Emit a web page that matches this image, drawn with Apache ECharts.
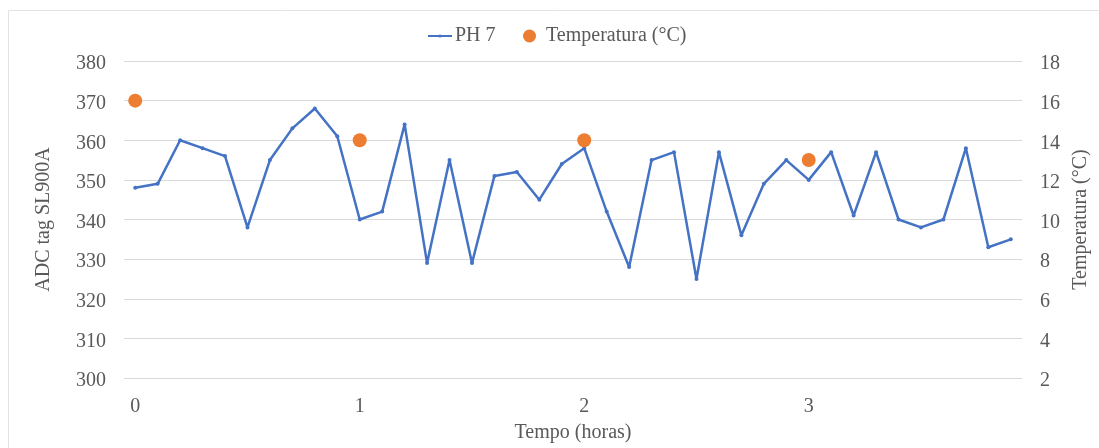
<!DOCTYPE html>
<html>
<head>
<meta charset="utf-8">
<script src="https://cdn.jsdelivr.net/npm/echarts@6/dist/echarts.min.js"></script>
<style>
  html, body { margin: 0; padding: 0; background: #ffffff; }
  #chart { width: 1099px; height: 448px; }
</style>
</head>
<body>
<div id="chart"></div>
<script>
// Time axis (hours), one reading every 0.1 h
const tempoHoras = ['0','0.1','0.2','0.3','0.4','0.5','0.6','0.7','0.8','0.9',
                    '1','1.1','1.2','1.3','1.4','1.5','1.6','1.7','1.8','1.9',
                    '2','2.1','2.2','2.3','2.4','2.5','2.6','2.7','2.8','2.9',
                    '3','3.1','3.2','3.3','3.4','3.5','3.6','3.7','3.8','3.9'];

// ADC readings of the SL900A tag for the pH 7 solution
const ph7 = [348, 349, 360, 358, 356, 338, 355, 363, 368, 361,
             340, 342, 364, 329, 355, 329, 351, 352, 345, 354,
             358, 342, 328, 355, 357, 325, 357, 336, 349, 355,
             350, 357, 341, 357, 340, 338, 340, 358, 333, 335];

// Temperature measured once per hour
const tempHoras = ['0', '1', '2', '3'];
const temperatura = [16, 14, 14, 13];

// Axis ticks
const adcTicks = { min: 300, max: 380, interval: 10 };
const tempTicks = { min: 2, max: 18, interval: 2 };

const textColor = '#595959';
const fontFam = '"Liberation Serif", "Times New Roman", serif';
const fs = 20;
const blue = '#4472C4';
const orange = '#ED7D31';

const chart = echarts.init(document.getElementById('chart'), null, { renderer: 'canvas' });

const legendText = { fontFamily: fontFam, fontSize: fs, color: textColor };

// Value labels sit a little below their gridline
const lowered = v => '{t|' + v + '}';
const loweredRich = { t: { fontFamily: fontFam, fontSize: fs, color: textColor, padding: [6, 0, 0, 0] } };

chart.setOption({
  backgroundColor: '#ffffff',
  animation: false,
  textStyle: { fontFamily: fontFam, color: textColor },
  graphic: [{
    type: 'rect',
    shape: { x: 8.5, y: 10.5, width: 1100, height: 460 },
    style: { fill: 'none', stroke: '#e3e3e3', lineWidth: 1 },
    silent: true
  }],
  legend: [{
    top: 26,
    left: 427,
    padding: 0,
    itemWidth: 24,
    itemHeight: 4,
    textStyle: Object.assign({ padding: [0, 0, 0, -2] }, legendText),
    data: ['PH 7']
  }, {
    top: 26,
    left: 523,
    padding: 0,
    itemWidth: 13,
    itemHeight: 13,
    textStyle: Object.assign({ padding: [0, 0, 0, 5] }, legendText),
    data: [{ name: 'Temperatura (°C)', icon: 'circle' }]
  }],
  grid: { left: 124, right: 77, top: 61, bottom: 69, containLabel: false },
  xAxis: {
    type: 'category',
    data: tempoHoras,
    boundaryGap: true,
    name: 'Tempo (horas)',
    nameLocation: 'middle',
    nameGap: 45,
    nameTextStyle: { fontFamily: fontFam, fontSize: fs, color: textColor },
    axisLine: { show: false },
    axisTick: { show: false },
    axisLabel: {
      interval: 9,
      margin: 19,
      fontFamily: fontFam, fontSize: fs, color: textColor,
      formatter: v => String(Math.round(Number(v)))
    },
    splitLine: { show: false }
  },
  yAxis: [{
    type: 'value',
    min: adcTicks.min, max: adcTicks.max, interval: adcTicks.interval,
    name: 'ADC tag SL900A',
    nameLocation: 'middle',
    nameGap: 70,
    nameRotate: 90,
    nameTextStyle: { fontFamily: fontFam, fontSize: fs, color: textColor },
    axisLine: { show: false },
    axisTick: { show: false },
    axisLabel: { margin: 18, formatter: lowered, rich: loweredRich },
    splitLine: { lineStyle: { color: '#d9d9d9', width: 1 } }
  }, {
    type: 'value',
    position: 'right',
    min: tempTicks.min, max: tempTicks.max, interval: tempTicks.interval,
    name: 'Temperatura (°C)',
    nameLocation: 'middle',
    nameGap: 46,
    nameRotate: 90,
    nameTextStyle: { fontFamily: fontFam, fontSize: fs, color: textColor },
    axisLine: { show: false },
    axisTick: { show: false },
    axisLabel: { margin: 18, formatter: lowered, rich: loweredRich },
    splitLine: { show: false }
  }],
  series: [{
    name: 'PH 7',
    type: 'line',
    data: ph7,
    yAxisIndex: 0,
    symbol: 'circle',
    symbolSize: 4,
    showSymbol: true,
    lineStyle: { color: blue, width: 2.5 },
    itemStyle: { color: blue },
    z: 2
  }, {
    name: 'Temperatura (°C)',
    type: 'scatter',
    yAxisIndex: 1,
    data: tempHoras.map((h, i) => [h, temperatura[i]]),
    symbol: 'circle',
    symbolSize: 14,
    itemStyle: { color: orange, opacity: 1 },
    z: 3
  }]
});
</script>
</body>
</html>
